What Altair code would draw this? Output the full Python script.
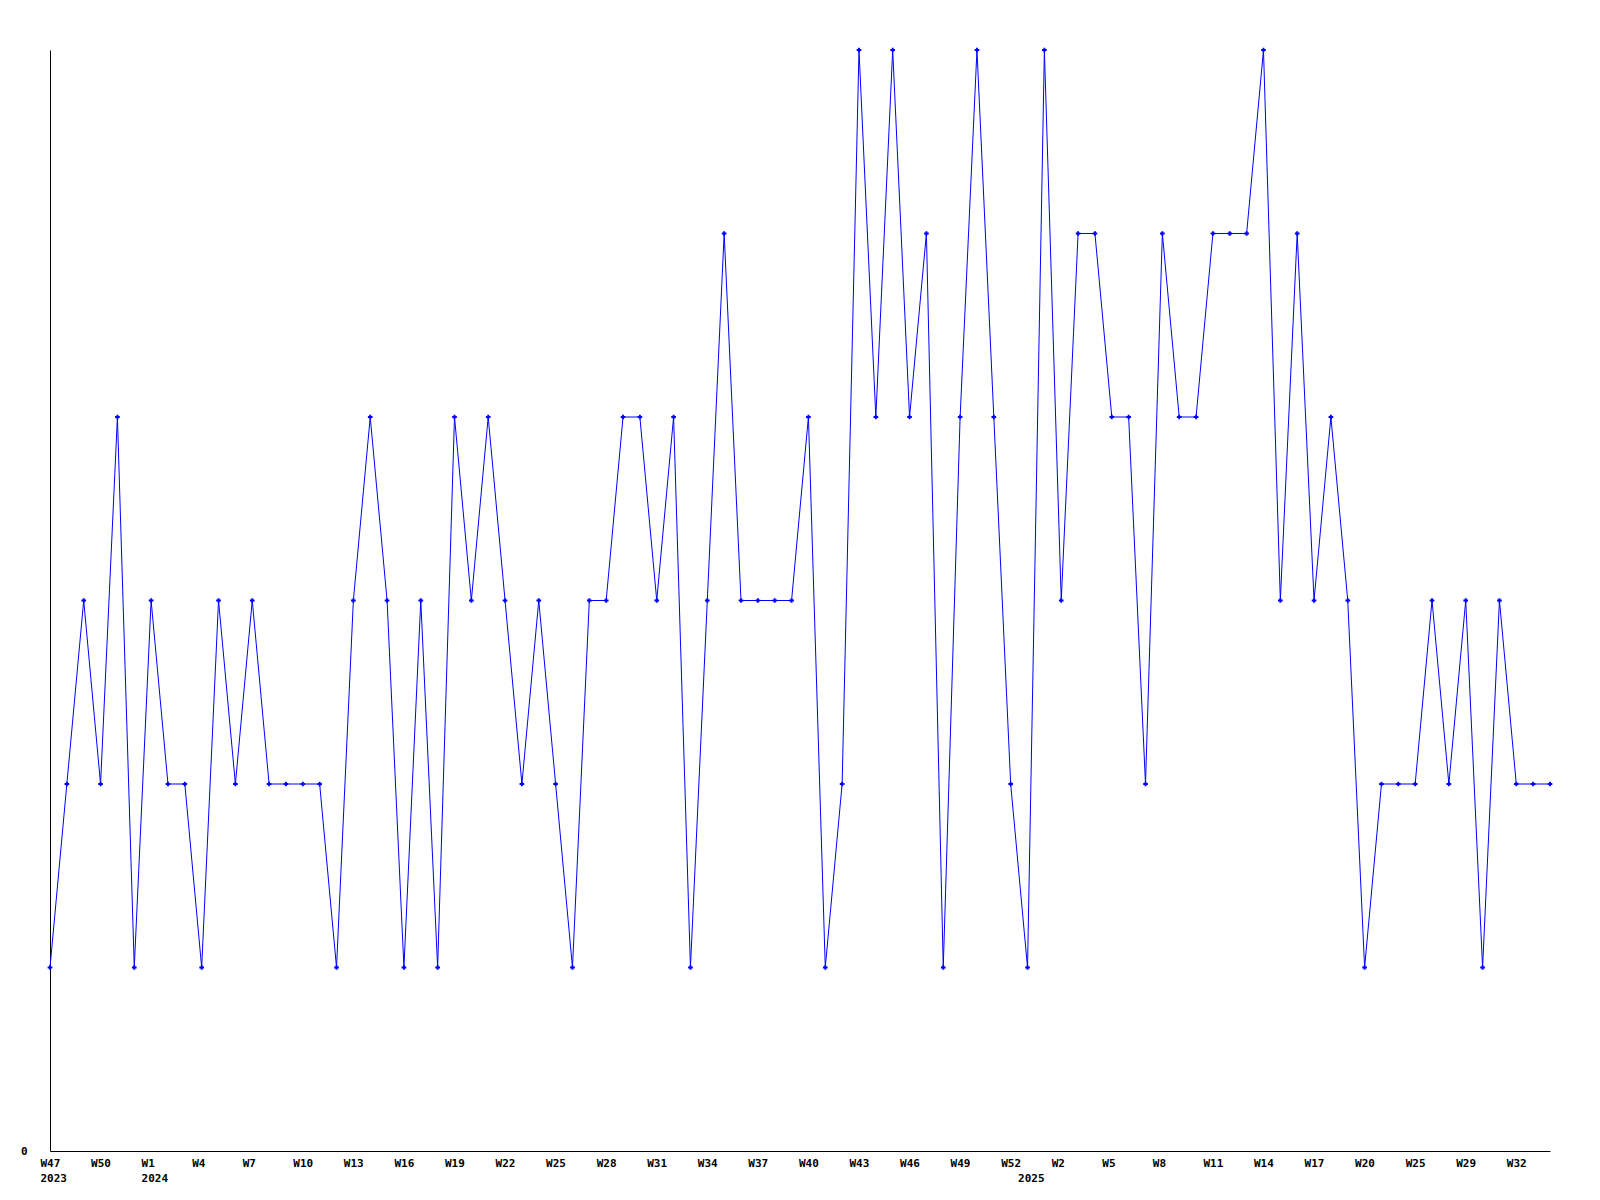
import altair as alt
import pandas as pd

# Week labels per point (equally spaced categories)
weeks_2023 = ["W47", "W48", "W49", "W50", "W51", "W52"]
weeks_2024 = [f"W{i}" for i in range(1, 53)]
weeks_2025 = ["W0", "W1", "W2", "W3", "W4", "W5", "W6", "W7", "W8", "W9", "W10",
              "W11", "W12", "W13", "W14", "W15", "W16", "W17", "W18", "W19", "W20",
              "W22", "W24", "W25", "W26", "W27", "W29", "W30", "W31", "W32", "W33", "W34"]

values = [1, 2, 3, 2, 4, 1, 3, 2, 2, 1, 3, 2, 3, 2, 2, 2, 2, 1, 3, 4,
          3, 1, 3, 1, 4, 3, 4, 3, 2, 3, 2, 1, 3, 3, 4, 4, 3, 4, 1, 3,
          5, 3, 3, 3, 3, 4, 1, 2, 6, 4, 6, 4, 5, 1, 4, 6, 4, 2, 1, 6,
          3, 5, 5, 4, 4, 2, 5, 4, 4, 5, 5, 5, 6, 3, 5, 3, 4, 3, 1, 2,
          2, 2, 3, 2, 3, 1, 3, 2, 2, 2]

years = [2023] * len(weeks_2023) + [2024] * len(weeks_2024) + [2025] * len(weeks_2025)
weeks = weeks_2023 + weeks_2024 + weeks_2025

df = pd.DataFrame({
    "idx": list(range(len(values))),
    "week": weeks,
    "year": years,
    "value": values,
})

# tick positions: every third point, plus first point of each new year
tick_idx = list(range(0, len(values), 3))
year_start = [i for i in range(len(years)) if i == 0 or years[i] != years[i - 1]]
all_ticks = sorted(set(tick_idx) | set(year_start))

parts = []
for i in all_ticks:
    top = weeks[i] if i in tick_idx else ""
    if i in year_start:
        parts.append(f"datum.value == {i} ? ['{top}', '{years[i]}']")
    else:
        parts.append(f"datum.value == {i} ? '{top}'")
label_expr = " : ".join(parts) + " : ''"

FONT = "DejaVu Sans Mono"

x = alt.X(
    "idx:Q",
    scale=alt.Scale(domain=[0, len(values) - 1], nice=False, zero=False),
    axis=alt.Axis(
        values=all_ticks,
        labelExpr=label_expr,
        title=None,
        grid=False,
        ticks=False,
        domainColor="black",
        domainWidth=1,
        labelFont=FONT,
        labelFontSize=11,
        labelFontWeight="bold",
        labelColor="black",
        labelAlign="left",
        labelOffset=-10,
        labelBaseline="top",
        labelPadding=6,
        labelLineHeight=15,
        labelOverlap=False,
        labelFlush=False,
    ),
)
y = alt.Y(
    "value:Q",
    scale=alt.Scale(domain=[0, 6], nice=False),
    axis=alt.Axis(
        values=[0],
        title=None,
        grid=False,
        ticks=False,
        domainColor="black",
        domainWidth=1,
        labelFont=FONT,
        labelFontSize=11,
        labelFontWeight="bold",
        labelColor="black",
        labelPadding=23,
    ),
)

base = alt.Chart(df)
line = base.mark_line(color="#0000ff", strokeWidth=1).encode(x=x, y=y)
pts = base.mark_point(shape="cross", filled=True, size=22, color="#0000ff", opacity=1,
                      strokeWidth=0).encode(x=x, y=y)

chart = (line + pts).properties(
    width=1500,
    height=1101,
    background="white",
    autosize=alt.AutoSizeParams(type="none"),
    padding={"left": 42, "top": 42, "right": 42, "bottom": 44},
).configure_view(strokeWidth=0, stroke=None)

chart.save("out.html", embed_options={"renderer": "svg", "actions": False})
